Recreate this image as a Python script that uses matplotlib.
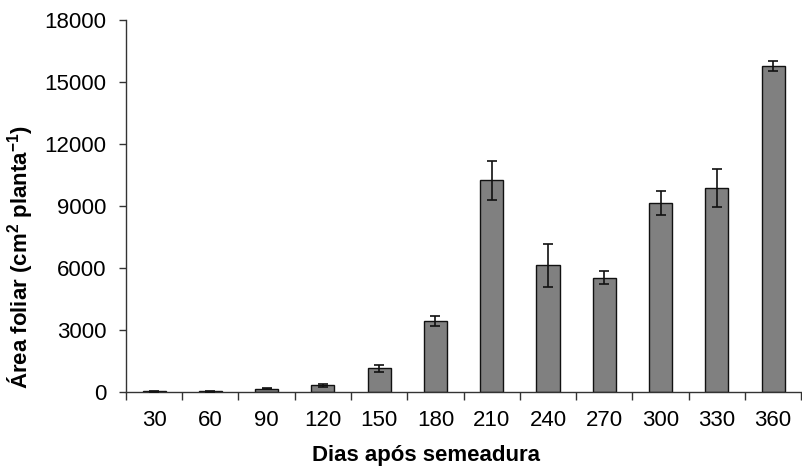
import matplotlib
matplotlib.use("Agg")
import matplotlib.pyplot as plt
import numpy as np

days = ["30", "60", "90", "120", "150", "180", "210", "240", "270", "300", "330", "360"]
leaf_area = [30, 30, 160, 320, 1145, 3435, 10245, 6130, 5530, 9145, 9860, 15775]
leaf_area_err = [10, 10, 30, 60, 175, 240, 935, 1030, 320, 600, 920, 250]
yticks = [0, 3000, 6000, 9000, 12000, 15000, 18000]

plt.rcParams["font.family"] = ["Liberation Sans", "DejaVu Sans"]
plt.rcParams["mathtext.fontset"] = "custom"
plt.rcParams["mathtext.rm"] = "Liberation Sans"
plt.rcParams["mathtext.bf"] = "Liberation Sans:bold"

fig = plt.figure(figsize=(8.02, 4.68), dpi=100)
ax = fig.add_axes([0.157, 0.1624, 0.842, 0.795])

x = np.arange(len(days))
ax.bar(x, leaf_area, width=0.41, color="#808080", edgecolor="#111111",
       linewidth=1.0, zorder=2)
ax.errorbar(x, leaf_area, yerr=leaf_area_err, fmt="none", ecolor="#111111",
            elinewidth=1.2, capsize=3.5, capthick=1.2, zorder=3)

ax.set_xlim(-0.5, len(days) - 0.5)
ax.set_ylim(0, 18000)
ax.set_yticks(yticks)
ax.set_yticklabels([str(v) for v in yticks])
ax.set_xticks(x)
ax.set_xticklabels(days)
ax.set_xticks(np.arange(-0.5, len(days)), minor=True)

for s in ("top", "right"):
    ax.spines[s].set_visible(False)
for s in ("left", "bottom"):
    ax.spines[s].set_color("#333333")
    ax.spines[s].set_linewidth(1.0)

ax.tick_params(axis="y", labelsize=16, length=5, width=1, color="#333333",
               pad=9, direction="out")
ax.tick_params(axis="x", which="major", labelsize=16, length=0, pad=13)
ax.tick_params(axis="x", which="minor", length=6, width=1, color="#333333",
               direction="out")

ax.set_ylabel(r"Área foliar (cm$\mathbf{^{2}}$ planta$\mathbf{^{-1}}$)",
              fontsize=16, fontweight="bold")
ax.yaxis.set_label_coords(-0.135, 0.362)
ax.set_xlabel("Dias após semeadura", fontsize=16, fontweight="bold")
ax.xaxis.set_label_coords(0.444, -0.143)

fig.savefig("out.png", dpi=100)
